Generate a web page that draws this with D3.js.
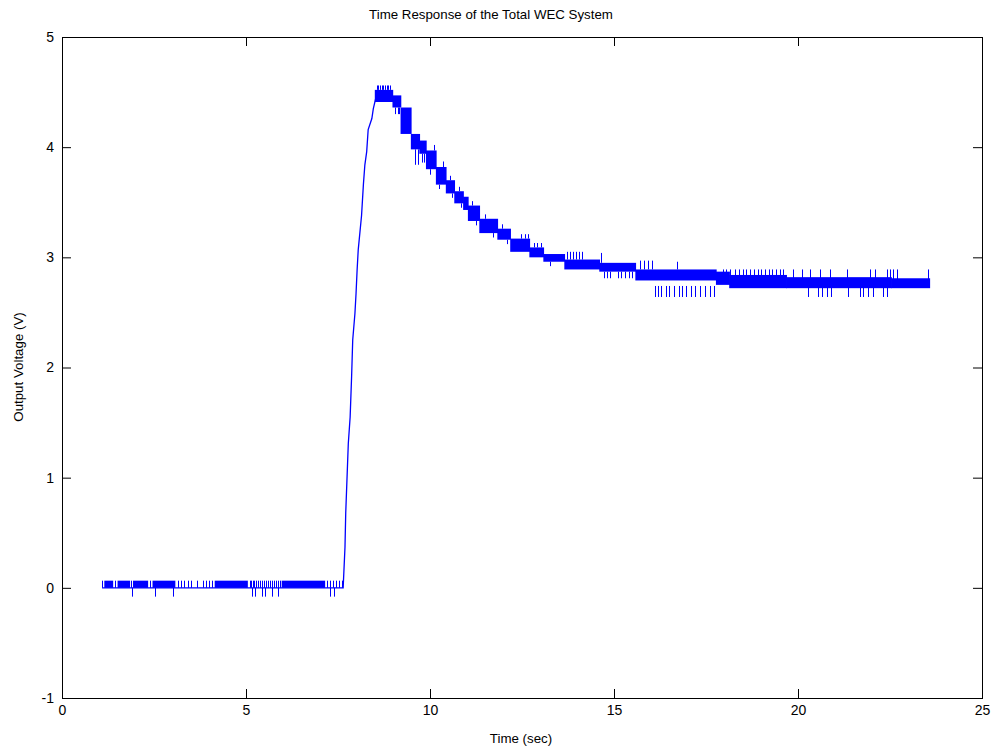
<!DOCTYPE html>
<html lang="en">
<head>
<meta charset="UTF-8" />
<title>Time Response of the Total WEC System</title>
<script src="https://d3js.org/d3.v7.min.js"></script>
<style>
  body { margin: 0; background: #fff; font-family: "Liberation Sans", Arial, sans-serif; }
  svg { display: block; }
</style>
</head>
<body>
<svg width="994" height="750"></svg>
<script>
const xTicks = [0, 5, 10, 15, 20, 25];
const yTicks = [-1, 0, 1, 2, 3, 4, 5];

// main trace: flat start then the rise up to the peak (sec, V)
const traceT = [1.09, 7.64, 7.69, 7.71, 7.78, 7.83, 7.87, 7.90, 7.96, 7.99, 8.02, 8.05, 8.14, 8.19, 8.23, 8.28, 8.32, 8.42, 8.46, 8.53];
const traceV = [0, 0, 0.37, 0.68, 1.31, 1.55, 1.92, 2.25, 2.49, 2.67, 2.89, 3.07, 3.38, 3.66, 3.84, 3.96, 4.16, 4.26, 4.35, 4.45];

// dense toggling near 0 V: [start, end, low, high]
const flatBands = [
  [1.15, 1.39, 0, 0.065], [1.51, 1.85, 0, 0.065], [1.93, 2.34, 0, 0.065], [2.46, 3.08, 0, 0.065],
  [4.15, 5.05, 0, 0.065], [5.97, 7.15, 0, 0.065]
];
const flatUpT = [1.10, 1.44, 1.88, 2.40, 3.15, 3.23, 3.32, 3.42, 3.51, 3.67, 3.83, 3.91, 3.99, 4.08,
  5.10, 5.14, 5.18, 5.22, 5.27, 5.33, 5.37, 5.43, 5.48, 5.54, 5.59, 5.65, 5.70, 5.76, 5.81, 5.87, 5.92,
  7.20, 7.28, 7.36, 7.45, 7.53, 7.61];
const flatDownT = [1.89, 2.53, 3.02, 5.15, 5.24, 5.43, 5.52, 5.70, 5.86, 7.28, 7.40];
const flatHigh = 0.065, flatLow = -0.08;

// dense toggling from the peak to the end: [start, end, low, high]
const decayBands = [
  [8.50, 9.00, 4.41, 4.52], [8.98, 9.22, 4.36, 4.47], [9.20, 9.50, 4.12, 4.36], [9.48, 9.73, 3.98, 4.12],
  [9.71, 9.91, 3.94, 4.06], [9.89, 10.18, 3.80, 3.97], [10.16, 10.45, 3.66, 3.82], [10.43, 10.68, 3.58, 3.70],
  [10.66, 10.92, 3.49, 3.60], [10.90, 11.05, 3.43, 3.55], [11.03, 11.36, 3.33, 3.47], [11.34, 11.85, 3.22, 3.35],
  [11.83, 12.20, 3.16, 3.26], [12.18, 12.72, 3.05, 3.17], [12.70, 13.10, 3.00, 3.09], [13.08, 13.67, 2.96, 3.03],
  [13.65, 14.62, 2.89, 2.98], [14.60, 15.60, 2.87, 2.95], [15.58, 17.79, 2.79, 2.89], [17.77, 18.15, 2.75, 2.87],
  [18.13, 19.70, 2.72, 2.84], [19.68, 22.55, 2.72, 2.82], [22.53, 23.59, 2.72, 2.81]
];
// single toggles in the decay: [time, from, to]
const decaySpikes = [
  [8.55, 4.52, 4.56], [8.60, 4.52, 4.56], [8.64, 4.52, 4.56], [8.69, 4.52, 4.56], [8.73, 4.52, 4.56],
  [8.78, 4.52, 4.56], [8.82, 4.52, 4.56], [8.87, 4.52, 4.56], [8.91, 4.52, 4.56],
  [9.05, 4.36, 4.30], [9.12, 4.36, 4.30], [9.17, 4.36, 4.30],
  [9.59, 3.98, 3.84], [9.68, 3.98, 3.84], [9.77, 3.94, 3.86], [9.84, 3.94, 3.86],
  [10.00, 3.80, 3.75], [10.10, 3.97, 4.02], [10.25, 3.66, 3.62], [10.35, 3.82, 3.87], [10.55, 3.70, 3.74],
  [10.60, 3.58, 3.54], [10.80, 3.60, 3.64], [10.85, 3.49, 3.45], [11.15, 3.47, 3.51], [11.25, 3.33, 3.29],
  [11.50, 3.35, 3.39], [11.70, 3.22, 3.18], [11.95, 3.26, 3.30], [12.10, 3.16, 3.12],
  [12.48, 3.17, 3.21], [12.58, 3.17, 3.21], [12.66, 3.17, 3.21],
  [12.82, 3.09, 3.13], [12.92, 3.09, 3.13], [13.02, 3.09, 3.13], [13.26, 2.96, 2.92],
  [13.72, 2.98, 3.05], [13.80, 2.98, 3.05], [13.88, 2.98, 3.05], [13.96, 2.98, 3.05], [14.05, 2.98, 3.05], [14.14, 2.98, 3.05],
  [14.66, 2.95, 3.04],
  [14.72, 2.87, 2.81], [14.80, 2.87, 2.81], [14.88, 2.87, 2.81], [15.12, 2.87, 2.81], [15.20, 2.87, 2.81],
  [15.30, 2.87, 2.81], [15.40, 2.87, 2.81], [15.50, 2.87, 2.81],
  [15.72, 2.89, 2.97], [15.82, 2.89, 2.97], [15.92, 2.89, 2.97], [16.02, 2.89, 2.97], [16.70, 2.89, 2.96]
];
const steadyUpT = [17.95, 18.05, 18.15, 18.30, 18.40, 18.50, 18.60, 18.70, 18.80, 18.90, 19.00, 19.10, 19.20,
  19.30, 19.40, 19.50, 19.60, 19.87, 20.10, 20.33, 20.60, 20.87, 21.32, 21.96, 22.09, 22.41, 22.50, 22.59, 22.68, 23.54];
const steadyDownT = [16.12, 16.20, 16.28, 16.40, 16.50, 16.62, 16.76, 16.86, 16.95, 17.08, 17.20, 17.35, 17.48, 17.60, 17.72,
  20.28, 20.55, 20.64, 20.78, 20.91, 21.37, 21.68, 21.77, 21.90, 22.04, 22.32, 22.41];
const steadyHigh = 2.89, steadyLow = 2.64;

const svg = d3.select("svg");
const x = d3.scaleLinear().domain([0, 25]).range([62, 982]);
const y = d3.scaleLinear().domain([-1, 5]).range([698, 37]);
const blue = "#0000ff";
const font = "'Liberation Sans', Arial, sans-serif";

svg.append("rect").attr("width", 994).attr("height", 750).attr("fill", "#fff");

const plot = svg.append("g");

// toggling bands
plot.selectAll("rect.band")
  .data(flatBands.concat(decayBands))
  .enter().append("rect")
  .attr("class", "band")
  .attr("x", d => x(d[0]))
  .attr("width", d => x(d[1]) - x(d[0]))
  .attr("y", d => y(d[3]))
  .attr("height", d => y(d[2]) - y(d[3]))
  .attr("fill", blue);

// single toggles
const spikes = [
  ...flatUpT.map(t => [t, 0, flatHigh]),
  ...flatDownT.map(t => [t, 0, flatLow]),
  ...decaySpikes,
  ...steadyUpT.map(t => [t, 2.80, steadyHigh]),
  ...steadyDownT.map(t => [t, 2.74, steadyLow])
];
plot.selectAll("line.spike")
  .data(spikes)
  .enter().append("line")
  .attr("class", "spike")
  .attr("x1", d => Math.round(x(d[0])) + 0.5)
  .attr("x2", d => Math.round(x(d[0])) + 0.5)
  .attr("y1", d => y(d[1]))
  .attr("y2", d => y(d[2]))
  .attr("stroke", blue)
  .attr("stroke-width", 1);

// trace
const line = d3.line().x(d => x(d[0])).y(d => y(d[1]));
plot.append("path")
  .datum(traceT.map((t, i) => [t, traceV[i]]))
  .attr("d", line)
  .attr("fill", "none")
  .attr("stroke", blue)
  .attr("stroke-width", 1.3);

// axes, ticks inward on all four sides
function styleAxis(g) {
  g.select(".domain").remove();
  g.selectAll("line").attr("stroke", "#000");
  g.selectAll("text").attr("font-size", 14).attr("font-family", font).attr("fill", "#000");
}
svg.append("g").attr("transform", "translate(0,698)")
  .call(d3.axisBottom(x).tickValues(xTicks).tickSize(-9).tickSizeOuter(0).tickPadding(7).tickFormat(d => String(d)))
  .call(styleAxis);
svg.append("g").attr("transform", "translate(62,0)")
  .call(d3.axisLeft(y).tickValues(yTicks).tickSize(-9).tickSizeOuter(0).tickPadding(8).tickFormat(d => String(d)))
  .call(styleAxis);
svg.append("g").attr("transform", "translate(0,37)")
  .call(d3.axisTop(x).tickValues(xTicks).tickSize(-9).tickSizeOuter(0).tickFormat(""))
  .call(styleAxis);
svg.append("g").attr("transform", "translate(982,0)")
  .call(d3.axisRight(y).tickValues(yTicks).tickSize(-9).tickSizeOuter(0).tickFormat(""))
  .call(styleAxis);

svg.append("rect")
  .attr("x", 62.5).attr("y", 37.5)
  .attr("width", 920).attr("height", 661)
  .attr("fill", "none").attr("stroke", "#000");

// labels
svg.append("text")
  .attr("x", 491).attr("y", 19)
  .attr("text-anchor", "middle")
  .attr("font-family", font).attr("font-size", 13.3)
  .text("Time Response of the Total WEC System");

svg.append("text")
  .attr("x", 521).attr("y", 743)
  .attr("text-anchor", "middle")
  .attr("font-family", font).attr("font-size", 13.3)
  .text("Time (sec)");

svg.append("text")
  .attr("transform", "translate(23,367) rotate(-90)")
  .attr("text-anchor", "middle")
  .attr("font-family", font).attr("font-size", 13.3)
  .text("Output Voltage (V)");
</script>
</body>
</html>
